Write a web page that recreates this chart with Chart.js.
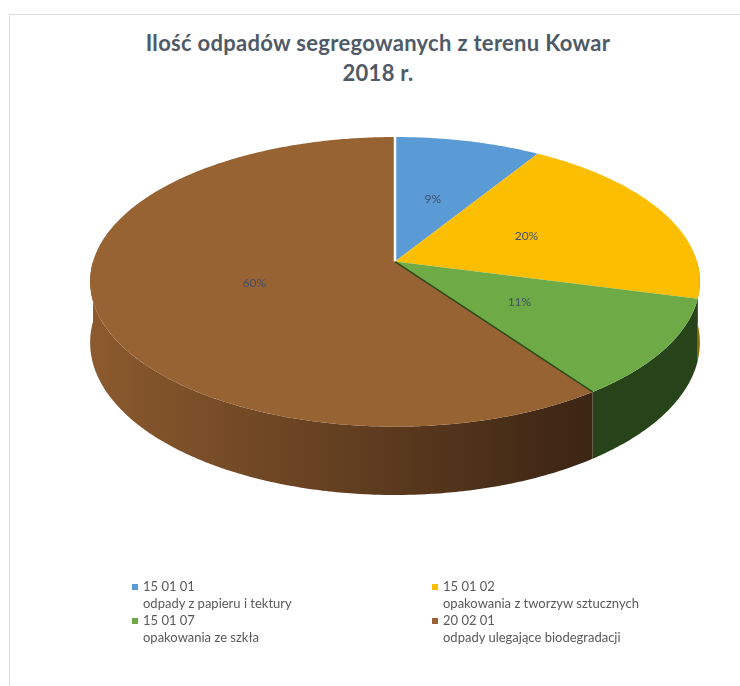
<!DOCTYPE html>
<html>
<head>
<meta charset="utf-8">
<script src="https://cdn.jsdelivr.net/npm/chart.js@4"></script>
<style>
  body { margin: 0; background: #fff; }
  #wrap { position: relative; width: 740px; height: 686px; overflow: hidden; }
  #frame { position: absolute; left: 9px; top: 14px; width: 800px; height: 720px; border: 1px solid #d9dde6; }
  #title { position: absolute; left: 0; top: 28px; width: 756px; text-align: center;
           font: bold 22px Lato, sans-serif; letter-spacing: 0.3px; line-height: 30px; color: #4f5a68; }
  canvas { position: absolute; left: 0; top: 0; }
  .item { position: absolute; font: 13px Lato, sans-serif; line-height: 17px; color: #595959; }
  .item i { position: absolute; left: -11px; top: 6px; width: 6px; height: 6px; }
</style>
</head>
<body>
<div id="wrap">
  <div id="frame"></div>
  <div id="title">Ilość odpadów segregowanych z terenu Kowar<br>2018 r.</div>
  <canvas id="pieChart" width="740" height="686"></canvas>
  <div id="legend"></div>
</div>
<script>
// values (percent shares)
const codes = ['15 01 01', '15 01 02', '15 01 07', '20 02 01'];
const names = ['odpady z papieru i tektury', 'opakowania z tworzyw sztucznych',
               'opakowania ze szkła', 'odpady ulegające biodegradacji'];
const shares = [9, 20, 11, 60];

const topColors = ['#5b9bd5', '#fbbe00', '#6eaa45', '#976332'];
const sideColors = [['#3f77aa', '#2f5d88'], ['#b88a00', '#8f6b00'],
                    ['#30521f', '#27431a'], ['#8c5a2e', '#3a2413']];
const edgeColors = ['#ffffff', 'rgba(0,0,0,0)', 'rgba(0,0,0,0)', '#2b4a1c'];

const DEPTH = 60;   // thickness of the pie
const PERSP = 0.14; // perspective: near edge drawn bigger than far edge

const pie3d = {
  id: 'pie3d',
  beforeDatasetsDraw(chart) {
    const ctx = chart.ctx, a = chart.chartArea;
    const meta = chart.getDatasetMeta(0);
    const rx = (a.right - a.left) / 2 / 1.01;
    const ry = (a.bottom - a.top - DEPTH * (1 + PERSP)) / 2;
    const ax = (a.left + a.right) / 2 + 2;
    const ay = a.top + ry * (1 - PERSP);
    // projected point at angle t, fraction f of radius, dropped by depth d
    const pt = (t, f, d) => {
      const s = 1 + PERSP * f * Math.sin(t);
      return [ax + rx * f * Math.cos(t) * s, ay + ry * f * Math.sin(t) * s + (d || 0) * s];
    };
    const rim = (s, e, d, back) => {
      const n = Math.max(2, Math.ceil(Math.abs(e - s) / 0.01));
      for (let k = 0; k <= n; k++) {
        const t = back ? e + (s - e) * k / n : s + (e - s) * k / n;
        const p = pt(t, 1, d);
        ctx.lineTo(p[0], p[1]);
      }
    };

    ctx.save();
    // sides (front half only)
    meta.data.forEach((arc, i) => {
      const s = Math.max(arc.startAngle, 0), e = Math.min(arc.endAngle, Math.PI);
      if (e <= s) return;
      const g = ctx.createLinearGradient(a.left, 0, a.right - 100, 0);
      g.addColorStop(0, sideColors[i][0]);
      g.addColorStop(1, sideColors[i][1]);
      ctx.beginPath();
      rim(s, e, 0, false);
      rim(s, e, DEPTH, true);
      ctx.closePath();
      ctx.fillStyle = g;
      ctx.fill();
    });
    // top surface
    meta.data.forEach((arc, i) => {
      ctx.beginPath();
      ctx.moveTo(ax, ay);
      rim(arc.startAngle, arc.endAngle, 0, false);
      ctx.closePath();
      ctx.fillStyle = topColors[i];
      ctx.fill();
    });
    // slice edges
    meta.data.forEach((arc, i) => {
      const p = pt(arc.startAngle, 1, 0);
      ctx.beginPath();
      ctx.moveTo(ax, ay);
      ctx.lineTo(p[0], p[1]);
      ctx.strokeStyle = edgeColors[i];
      ctx.lineWidth = i === 0 ? 2.5 : 1.5;
      ctx.stroke();
    });
    // percentage labels
    const total = shares.reduce((s, v) => s + v, 0);
    ctx.font = '12px Lato, sans-serif';
    ctx.fillStyle = '#44506a';
    ctx.textAlign = 'center';
    ctx.textBaseline = 'middle';
    meta.data.forEach((arc, i) => {
      const p = pt((arc.startAngle + arc.endAngle) / 2, 0.48, 0);
      ctx.fillText(Math.round(shares[i] / total * 100) + '%', p[0], p[1]);
    });
    ctx.restore();
    return false;
  }
};

new Chart(document.getElementById('pieChart'), {
  type: 'pie',
  data: {
    labels: codes,
    datasets: [{ data: shares, backgroundColor: topColors, borderWidth: 0 }]
  },
  options: {
    responsive: false,
    animation: false,
    events: [],
    layout: { padding: { left: 88, right: 42, top: 137, bottom: 191 } },
    plugins: { legend: { display: false }, tooltip: { enabled: false }, title: { display: false } }
  },
  plugins: [pie3d]
});

// legend, two columns
const colX = [143, 443], rowY = [578, 612];
let html = '';
codes.forEach((c, i) => {
  html += `<div class="item" style="left:${colX[i % 2]}px;top:${rowY[Math.floor(i / 2)]}px">
             <i style="background:${topColors[i]}"></i>${c}<br>${names[i]}</div>`;
});
document.getElementById('legend').innerHTML = html;
</script>
</body>
</html>
